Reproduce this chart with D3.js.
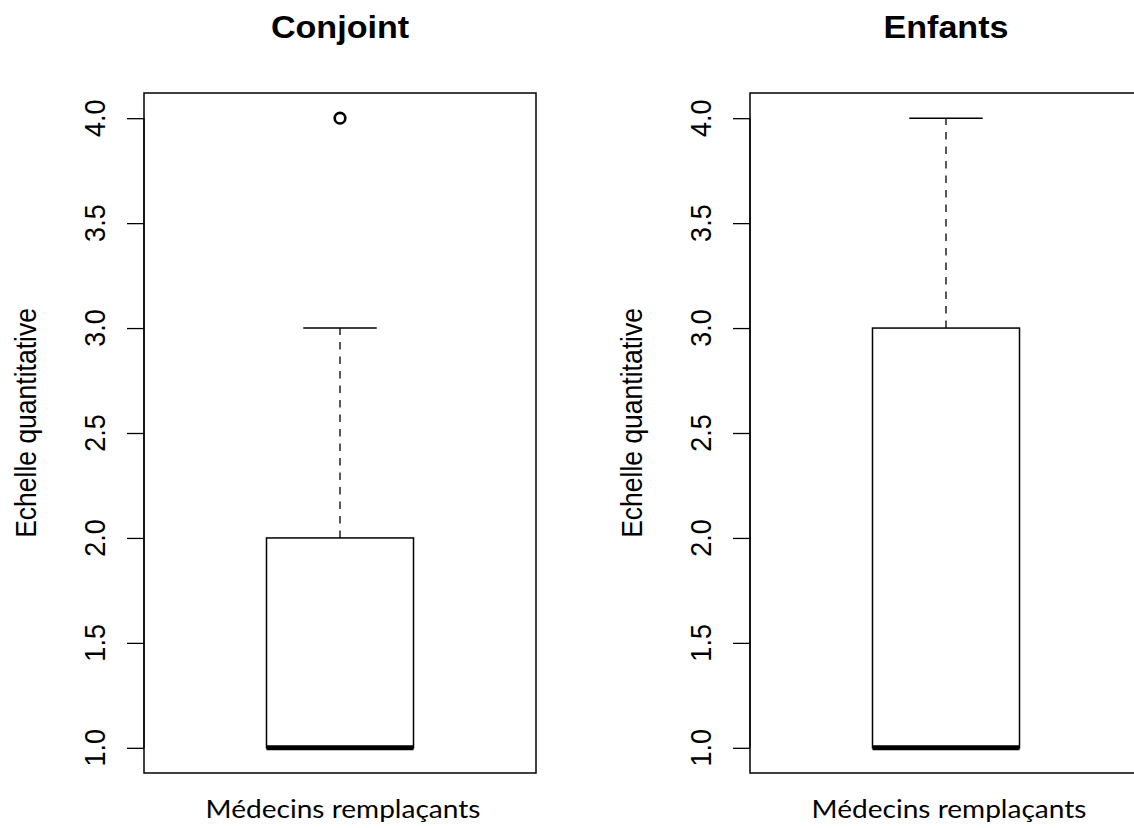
<!DOCTYPE html>
<html>
<head>
<meta charset="utf-8">
<script src="https://cdn.jsdelivr.net/npm/d3@7"></script>
<style>
  body { margin: 0; background: #fff; }
  svg { display: block; }
  .arial { font-family: 'Liberation Sans', Arial, sans-serif; fill: #000; }
  .calib { font-family: Lato, 'Open Sans', sans-serif; fill: #000; }
</style>
</head>
<body>
<div id="chart"></div>
<script>
'use strict';

// panel titles
var panelTitles = [ 'Conjoint', 'Enfants' ];
var groupLabel = 'Médecins remplaçants';
var yAxisLabel = 'Echelle quantitative';

// five-number summaries
var lowWhisker  = [ 1, 1 ];
var lowerQuart  = [ 1, 1 ];
var medians     = [ 1, 1 ];
var upperQuart  = [ 2, 3 ];
var highWhisker = [ 3, 4 ];
var outliers    = [ [ 4 ], [] ];

var yTicks = [ 1, 1.5, 2, 2.5, 3, 3.5, 4 ];

var width = 1134,
    height = 828,
    textStretch = 1.1;

var panels = [
  { left: 144, top: 93, width: 392, height: 680 },
  { left: 750, top: 93, width: 392, height: 680 }
];

var svg = d3.select( '#chart' )
  .append( 'svg' )
    .attr( 'width', width )
    .attr( 'height', height );

// text is a little wider than tall in the original, so stretch it
function addText( parent, x, y, str, cls, size, weight, rotated ) {
  var t = 'translate(' + x + ',' + y + ') scale(' + textStretch + ',1)';
  if ( rotated ) { t += ' rotate(-90)'; }
  return parent.append( 'text' )
    .attr( 'class', cls )
    .attr( 'transform', t )
    .attr( 'text-anchor', 'middle' )
    .style( 'font-size', size + 'px' )
    .style( 'font-weight', weight || 'normal' )
    .text( str );
}

function drawPanel( i ) {
  var p = panels[i];
  var g = svg.append( 'g' );

  var x = d3.scaleLinear()
      .domain( [ 0.5, 1.5 ] )
      .range( [ p.left, p.left + p.width ] );

  // R pads the data range by 4% on each side
  var y = d3.scaleLinear()
      .domain( [ 0.88, 4.12 ] )
      .range( [ p.top + p.height, p.top ] );

  var boxHalf = 0.1875,
      capHalf = boxHalf / 2,
      cx = 1;

  // upper whisker
  g.append( 'line' )
    .attr( 'x1', x( cx ) ).attr( 'x2', x( cx ) )
    .attr( 'y1', y( upperQuart[i] ) ).attr( 'y2', y( highWhisker[i] ) )
    .attr( 'stroke', '#000' ).attr( 'stroke-width', 1.3 )
    .attr( 'stroke-dasharray', '7.5,7' );

  g.append( 'line' )
    .attr( 'x1', x( cx - capHalf ) ).attr( 'x2', x( cx + capHalf ) )
    .attr( 'y1', y( highWhisker[i] ) ).attr( 'y2', y( highWhisker[i] ) )
    .attr( 'stroke', '#000' ).attr( 'stroke-width', 1.5 );

  // lower whisker (zero length here but kept for completeness)
  if ( lowWhisker[i] < lowerQuart[i] ) {
    g.append( 'line' )
      .attr( 'x1', x( cx ) ).attr( 'x2', x( cx ) )
      .attr( 'y1', y( lowerQuart[i] ) ).attr( 'y2', y( lowWhisker[i] ) )
      .attr( 'stroke', '#000' ).attr( 'stroke-width', 1.3 )
      .attr( 'stroke-dasharray', '7.5,7' );
  }
  g.append( 'line' )
    .attr( 'x1', x( cx - capHalf ) ).attr( 'x2', x( cx + capHalf ) )
    .attr( 'y1', y( lowWhisker[i] ) ).attr( 'y2', y( lowWhisker[i] ) )
    .attr( 'stroke', '#000' ).attr( 'stroke-width', 1.5 );

  // the box
  g.append( 'rect' )
    .attr( 'x', x( cx - boxHalf ) )
    .attr( 'y', y( upperQuart[i] ) )
    .attr( 'width', x( cx + boxHalf ) - x( cx - boxHalf ) )
    .attr( 'height', y( lowerQuart[i] ) - y( upperQuart[i] ) )
    .attr( 'fill', 'none' )
    .attr( 'stroke', '#000' ).attr( 'stroke-width', 1.5 );

  // median
  g.append( 'line' )
    .attr( 'x1', x( cx - boxHalf ) ).attr( 'x2', x( cx + boxHalf ) )
    .attr( 'y1', y( medians[i] ) ).attr( 'y2', y( medians[i] ) )
    .attr( 'stroke', '#000' ).attr( 'stroke-width', 5 );

  // outliers
  g.selectAll( 'circle.out' )
    .data( outliers[i] )
    .enter()
    .append( 'circle' )
      .attr( 'class', 'out' )
      .attr( 'cx', x( cx ) )
      .attr( 'cy', function( d ) { return y( d ); } )
      .attr( 'r', 5.3 )
      .attr( 'fill', 'none' )
      .attr( 'stroke', '#000' )
      .attr( 'stroke-width', 2.6 );

  // y axis ticks
  var yAxis = g.append( 'g' )
    .attr( 'transform', 'translate(' + p.left + ',0)' )
    .call( d3.axisLeft( y )
      .tickValues( yTicks )
      .tickSize( 17 )
      .tickSizeOuter( 0 )
      .tickFormat( '' ) );
  yAxis.select( '.domain' )
    .attr( 'd', 'M0,' + y( yTicks[0] ) + 'V' + y( yTicks[yTicks.length - 1] ) )
    .attr( 'stroke-width', 1.3 );
  yAxis.selectAll( '.tick line' ).attr( 'stroke-width', 1.3 );

  yTicks.forEach( function( d ) {
    addText( svg, p.left - 39, y( d ), d3.format( '.1f' )( d ), 'arial', 27, 'normal', true );
  } );

  // frame
  g.append( 'rect' )
    .attr( 'x', p.left )
    .attr( 'y', p.top )
    .attr( 'width', p.width )
    .attr( 'height', p.height )
    .attr( 'fill', 'none' )
    .attr( 'stroke', '#000' )
    .attr( 'stroke-width', 1.5 );

  // labels
  addText( svg, p.left + p.width / 2, 38, panelTitles[i], 'arial', 31, 'bold', false );
  addText( svg, p.left + p.width / 2 + 3, 818, groupLabel, 'calib', 25.5, 'normal', false );
  addText( svg, p.left - 108, 423, yAxisLabel, 'arial', 26.5, 'normal', true );
}

drawPanel( 0 );
drawPanel( 1 );
</script>
</body>
</html>
